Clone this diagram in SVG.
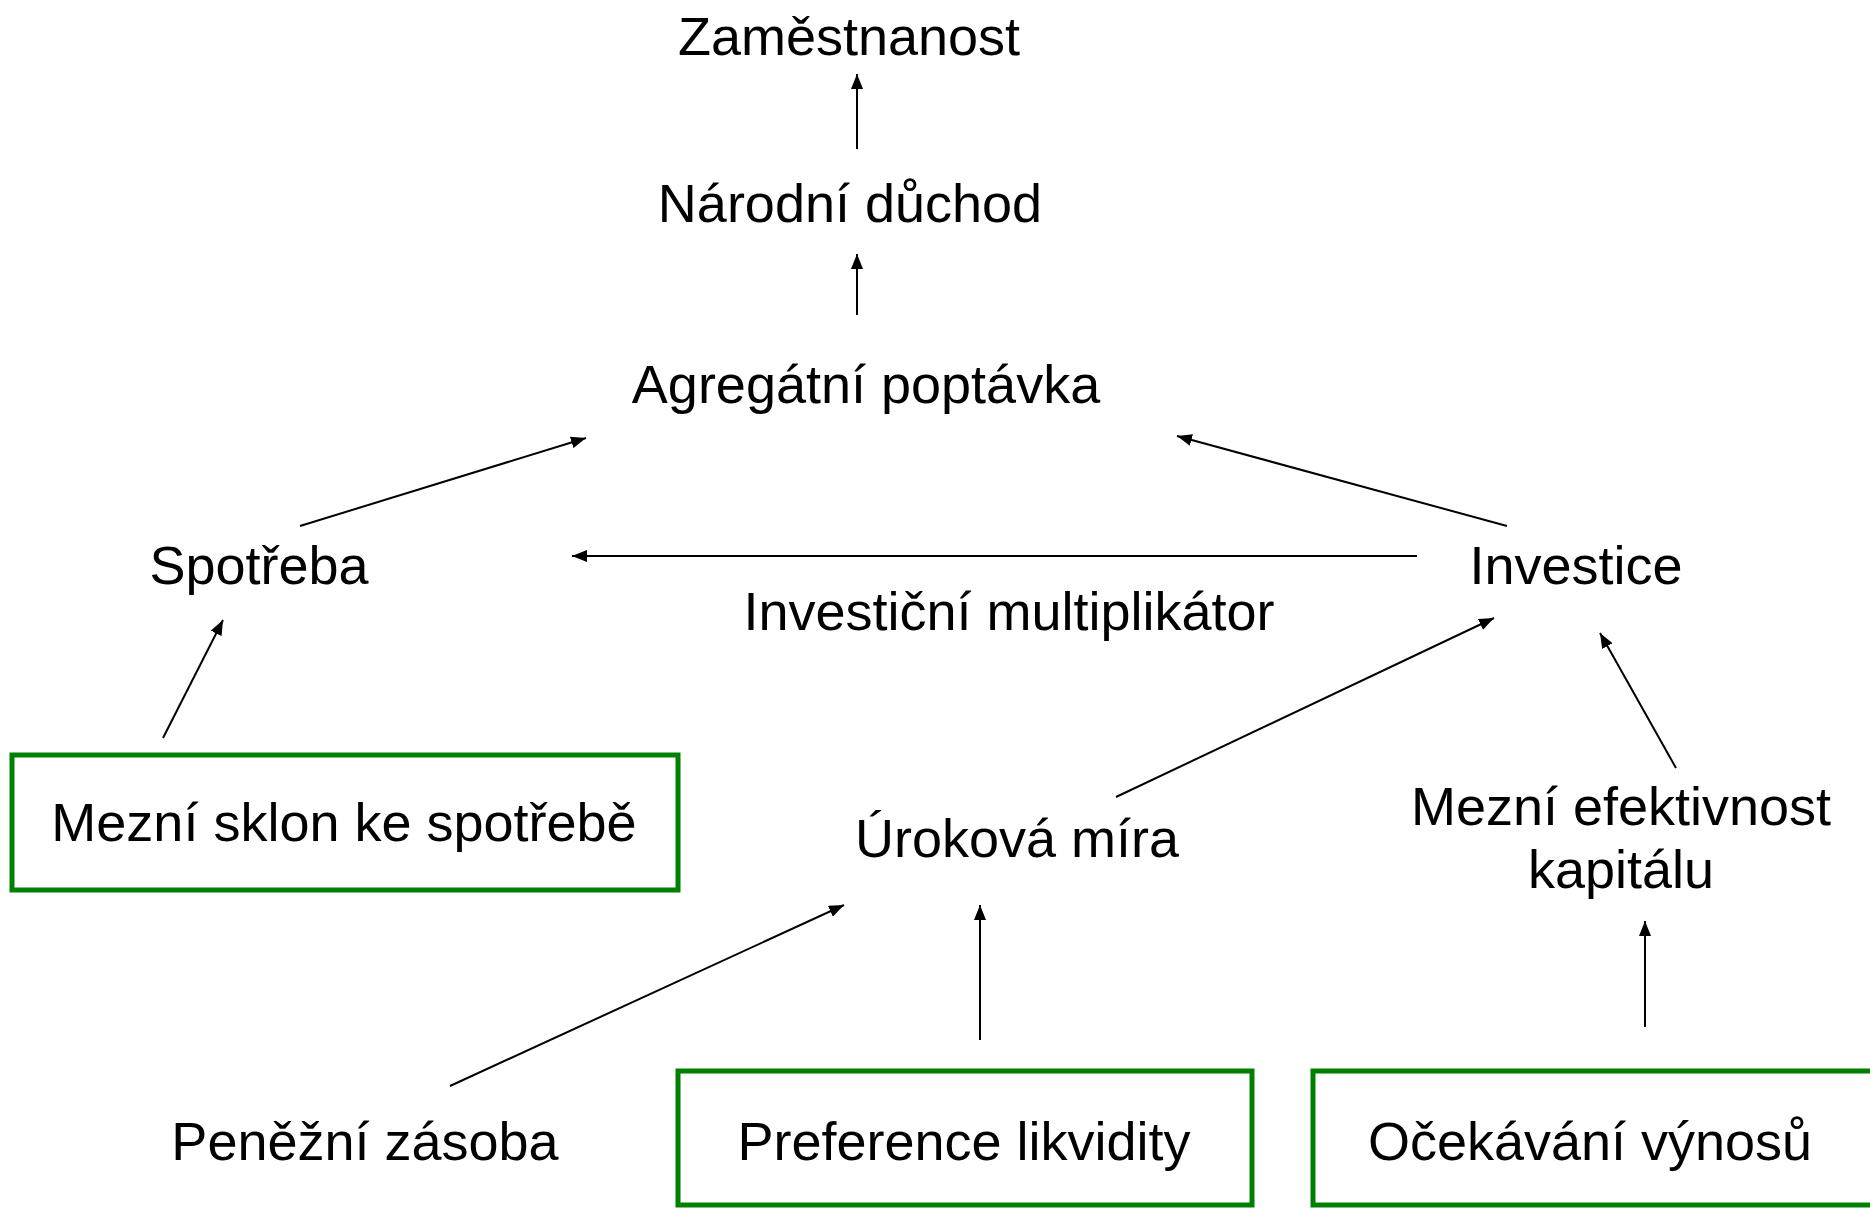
<svg xmlns="http://www.w3.org/2000/svg" width="1870" height="1208" viewBox="0 0 1870 1208">
<style>
text{font-family:"Liberation Sans",Arial,sans-serif;font-size:54px;fill:#000;text-anchor:middle}
.box{fill:#fff;stroke:#008000;stroke-width:5}
.c line{stroke:#000;stroke-width:2;marker-end:url(#ah)}
</style>
<defs>
<marker id="ah" markerUnits="userSpaceOnUse" markerWidth="15" markerHeight="12" refX="15" refY="6" orient="auto">
<path d="M0,0 L15,6 L0,12 z" fill="#000"/>
</marker>
</defs>
<rect width="1870" height="1208" fill="#fff"/>
<g id="n-zamestnanost"><text x="849" y="55">Zaměstnanost</text></g>
<g id="n-narodni-duchod"><text x="850" y="222">Národní důchod</text></g>
<g id="n-agregatni-poptavka"><text x="866" y="403">Agregátní poptávka</text></g>
<g id="n-spotreba"><text x="259" y="584">Spotřeba</text></g>
<g id="n-investice"><text x="1576" y="584">Investice</text></g>
<g id="n-multiplikator"><text x="1009" y="630">Investiční multiplikátor</text></g>
<g id="n-mezni-sklon"><rect class="box" x="12" y="755" width="666" height="135"/><text x="344" y="841">Mezní sklon ke spotřebě</text></g>
<g id="n-urokova-mira"><text x="1017" y="857">Úroková míra</text></g>
<g id="n-mezni-efektivnost"><text x="1621" y="825">Mezní efektivnost</text><text x="1621" y="888">kapitálu</text></g>
<g id="n-penezni-zasoba"><text x="365" y="1160">Peněžní zásoba</text></g>
<g id="n-preference"><rect class="box" x="678" y="1071" width="574" height="134"/><text x="964" y="1160">Preference likvidity</text></g>
<g id="n-ocekavani"><rect class="box" x="1313" y="1071" width="560" height="134"/><text x="1590" y="1160">Očekávání výnosů</text></g>
<g id="connectors" class="c">
<line x1="857" y1="149" x2="857" y2="74"/>
<line x1="857" y1="315" x2="857" y2="254"/>
<line x1="300" y1="526" x2="586" y2="438"/>
<line x1="1507" y1="526" x2="1177" y2="436"/>
<line x1="1417" y1="556" x2="572" y2="556"/>
<line x1="163" y1="738" x2="223" y2="620"/>
<line x1="1116" y1="797" x2="1494" y2="618"/>
<line x1="1676" y1="768" x2="1600" y2="633"/>
<line x1="450" y1="1086" x2="844" y2="905"/>
<line x1="980" y1="1040" x2="980" y2="905"/>
<line x1="1645" y1="1027" x2="1645" y2="921"/>
</g>
</svg>
